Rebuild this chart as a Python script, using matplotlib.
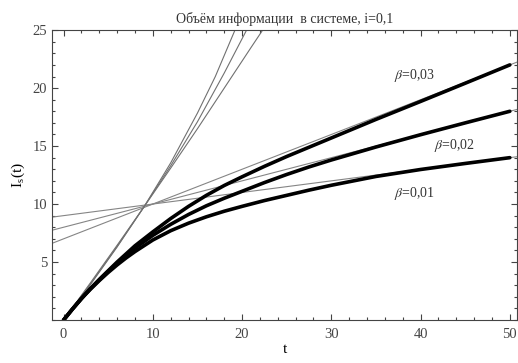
import numpy as np
import matplotlib.pyplot as plt
from matplotlib.ticker import MultipleLocator

# решения I(t) для трёх значений beta
t = [0, 1, 2, 3, 4, 5, 6, 7, 8, 9, 10, 12, 14, 16, 18, 20,
     22.5, 25, 27.5, 30, 35, 40, 45, 50]
I_b03 = [0, 0.95, 1.85, 2.7, 3.5, 4.25, 5.0, 5.7, 6.4, 7.0, 7.6, 8.75,
         9.8, 10.75, 11.6, 12.35, 13.25, 14.1, 14.9, 15.7, 17.3, 18.85, 20.42, 22.0]
I_b02 = [0, 0.95, 1.85, 2.7, 3.45, 4.2, 4.9, 5.55, 6.2, 6.75, 7.3, 8.25,
         9.1, 9.85, 10.5, 11.1, 11.85, 12.55, 13.2, 13.8, 14.92, 15.98, 17.0, 18.0]
I_b01 = [0, 0.95, 1.85, 2.65, 3.4, 4.1, 4.75, 5.35, 5.9, 6.4, 6.9, 7.7,
         8.35, 8.9, 9.38, 9.8, 10.3, 10.75, 11.2, 11.62, 12.38, 12.98, 13.5, 14.0]

# начальные приближения (быстрый рост)
t_a = [0, 3, 6, 9, 12, 15, 17, 19.2, 20.5]
I_a = [0, 3.05, 6.3, 9.75, 13.55, 17.85, 21.0, 25.0, 27.5]
t_b = [0, 3, 6, 9, 12, 15, 18, 20.5, 22]
I_b = [0, 3.1, 6.35, 9.75, 13.3, 17.1, 21.3, 25.0, 27.4]
t_c = [0, 3, 6, 9, 12, 15, 18, 21, 22.3, 24]
I_c = [0, 3.2, 6.45, 9.75, 13.1, 16.5, 20.0, 23.5, 25.0, 27.0]

# асимптоты: значения при t=0 и t=50
asym_t0 = [9.0, 8.0, 7.0]
asym_t50 = [14.0, 18.0, 22.0]

labels = [r"$\beta$=0,03", r"$\beta$=0,02", r"$\beta$=0,01"]

plt.rcParams.update({
    "font.family": "Liberation Serif",
    "mathtext.fontset": "stix",
    "font.size": 10,
    "text.color": "#333333",
    "axes.edgecolor": "#444444",
    "xtick.color": "#444444",
    "ytick.color": "#444444",
})

fig = plt.figure(figsize=(5.18, 3.63), dpi=100)
ax = fig.add_axes([0.1004, 0.1185, 0.8976, 0.7985])

for a, b in zip(asym_t0, asym_t50):
    ax.axline((0, a), (50, b), color="#858585", lw=0.8)

for tt, yy in [(t_a, I_a), (t_b, I_b), (t_c, I_c)]:
    ax.plot(tt, yy, color="#707070", lw=0.8)

for yy in [I_b03, I_b02, I_b01]:
    ax.plot(t, yy, color="black", lw=2.6, solid_capstyle="round")

ax.text(39.3, 21.1, labels[0], ha="center", va="center", fontsize=10)
ax.text(43.8, 15.05, labels[1], ha="center", va="center", fontsize=10)
ax.text(39.3, 10.9, labels[2], ha="center", va="center", fontsize=10)

ax.set_xlim(-1.3, 50.8)
ax.set_ylim(0, 25)
ax.xaxis.set_major_locator(MultipleLocator(10))
ax.xaxis.set_minor_locator(MultipleLocator(2))
ax.yaxis.set_major_locator(MultipleLocator(5))
ax.yaxis.set_minor_locator(MultipleLocator(1))
ax.set_yticks([5, 10, 15, 20, 25])
ax.tick_params(which="both", direction="in", top=True, right=True, width=0.8)
ax.tick_params(which="major", length=4.5, labelsize=10.5)
ax.tick_params(which="minor", length=2.5)
ax.tick_params(axis="x", pad=6)

ax.set_title("Объём информации  в системе, i=0,1", fontsize=10, pad=5)
ax.set_xlabel("t", fontsize=11, labelpad=1)
ax.set_ylabel(r"I$_\mathregular{s}$(t)", fontsize=11, labelpad=4)

fig.savefig("out.png", dpi=100)
